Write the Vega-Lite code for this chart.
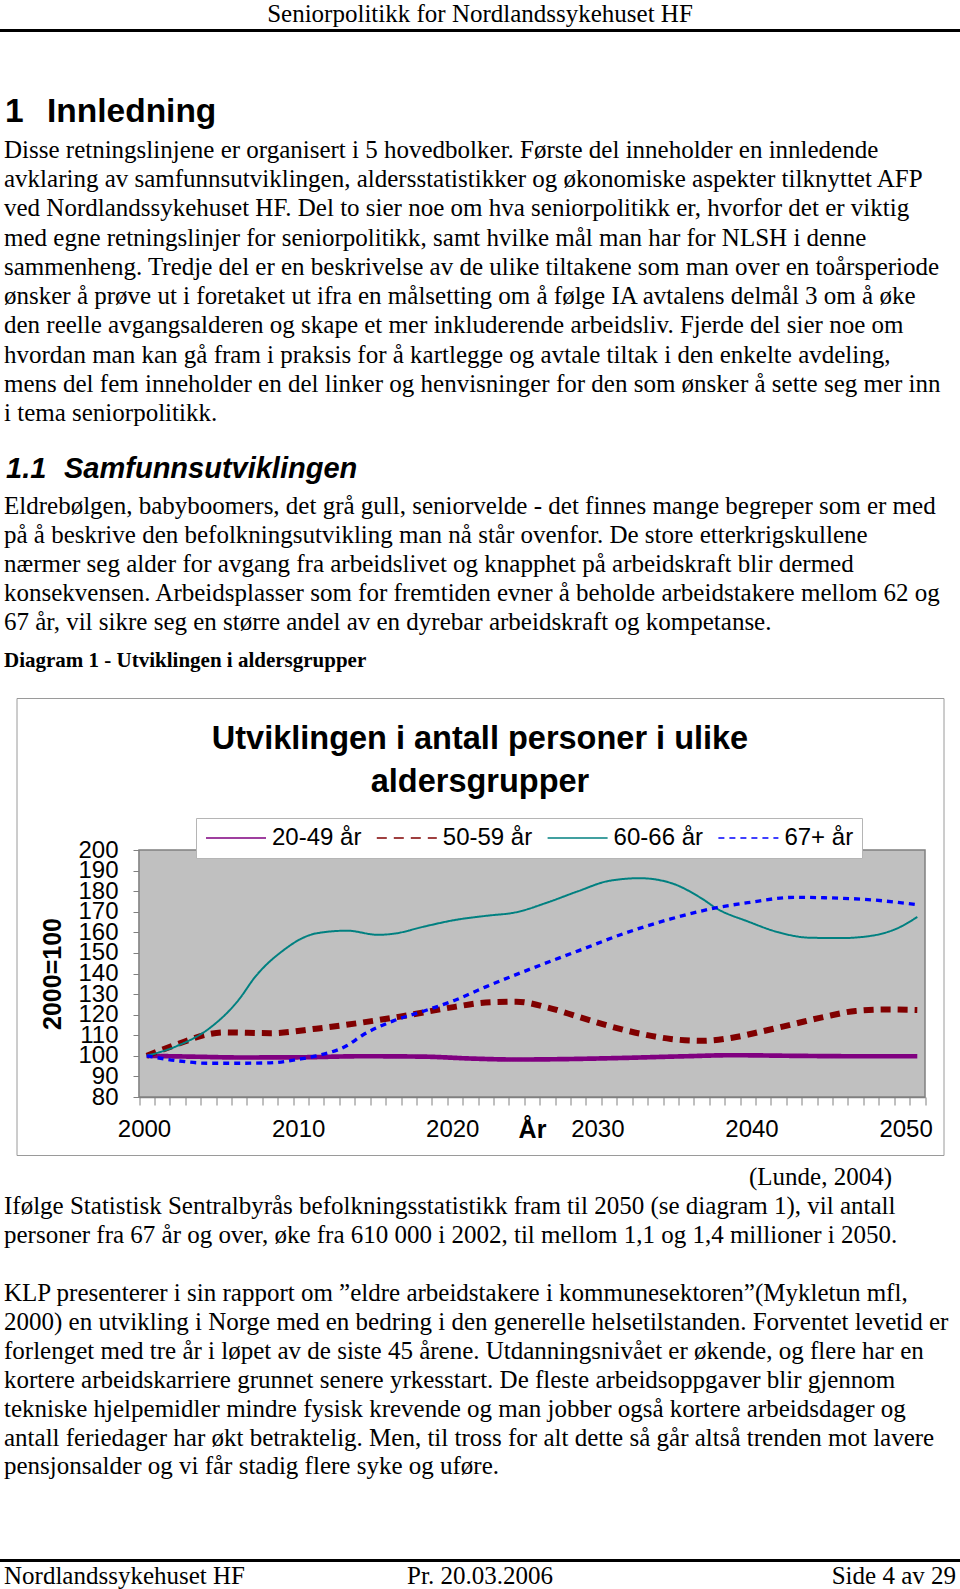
{
  "$schema": "https://vega.github.io/schema/vega-lite/v6.json",
  "padding": 0,
  "background": "white",
  "spacing": 0,
  "bounds": "flush",
  "center": true,
  "resolve": {"legend": {"color": "independent", "strokeDash": "independent", "strokeWidth": "independent"}},
  "config": {"view": {"stroke": null}},
  "vconcat": [
    {
      "width": 960, "height": 28.5,
      "data": {"values": [{"text": "Seniorpolitikk for Nordlandssykehuset HF"}]},
      "mark": {"type": "text", "font": "Liberation Serif", "fontSize": 25, "align": "center", "baseline": "middle", "color": "black"},
      "encoding": {"text": {"field": "text"}}
    },
    {
      "width": 960, "height": 3, "view": {"fill": "black", "stroke": null},
      "data": {"values": [{}]},
      "mark": {"type": "rect", "opacity": 0}, "encoding": {}
    },
    {
      "width": 960, "height": 62.5,
      "data": {"values": [{}]},
      "mark": {"type": "rect", "opacity": 0}, "encoding": {}
    },
    {
      "width": 960, "height": 34,
      "data": {"values": [{"num": "1", "title": "Innledning"}]},
      "layer": [
        {"mark": {"type": "text", "font": "Liberation Sans", "fontSize": 33.5, "fontWeight": "bold", "align": "left", "baseline": "middle", "color": "black"},
         "encoding": {"x": {"value": 5}, "text": {"field": "num"}}},
        {"mark": {"type": "text", "font": "Liberation Sans", "fontSize": 33.5, "fontWeight": "bold", "align": "left", "baseline": "middle", "color": "black"},
         "encoding": {"x": {"value": 47}, "text": {"field": "title"}}}
      ]
    },
    {
      "width": 960, "height": 5.35,
      "data": {"values": [{}]},
      "mark": {"type": "rect", "opacity": 0}, "encoding": {}
    },
    {
      "width": 960, "height": 293,
      "data": {"values": [
        {"line": 0, "text": "Disse retningslinjene er organisert i 5 hovedbolker. Første del inneholder en innledende"},
        {"line": 1, "text": "avklaring av samfunnsutviklingen, aldersstatistikker og økonomiske aspekter tilknyttet AFP"},
        {"line": 2, "text": "ved Nordlandssykehuset HF. Del to sier noe om hva seniorpolitikk er, hvorfor det er viktig"},
        {"line": 3, "text": "med egne retningslinjer for seniorpolitikk, samt hvilke mål man har for NLSH i denne"},
        {"line": 4, "text": "sammenheng. Tredje del er en beskrivelse av de ulike tiltakene som man over en toårsperiode"},
        {"line": 5, "text": "ønsker å prøve ut i foretaket ut ifra en målsetting om å følge IA avtalens delmål 3 om å øke"},
        {"line": 6, "text": "den reelle avgangsalderen og skape et mer inkluderende arbeidsliv. Fjerde del sier noe om"},
        {"line": 7, "text": "hvordan man kan gå fram i praksis for å kartlegge og avtale tiltak i den enkelte avdeling,"},
        {"line": 8, "text": "mens del fem inneholder en del linker og henvisninger for den som ønsker å sette seg mer inn"},
        {"line": 9, "text": "i tema seniorpolitikk."}
      ]},
      "mark": {"type": "text", "font": "Liberation Serif", "fontSize": 25, "align": "left", "baseline": "middle", "color": "black"},
      "encoding": {
        "y": {"field": "line", "type": "ordinal", "axis": null, "scale": {"type": "point", "padding": 0.5}},
        "x": {"value": 4},
        "text": {"field": "text"}
      }
    },
    {
      "width": 960, "height": 23.65,
      "data": {"values": [{}]},
      "mark": {"type": "rect", "opacity": 0}, "encoding": {}
    },
    {
      "width": 960, "height": 34,
      "data": {"values": [{"num": "1.1", "title": "Samfunnsutviklingen"}]},
      "layer": [
        {"mark": {"type": "text", "font": "Liberation Sans", "fontSize": 29, "fontWeight": "bold", "fontStyle": "italic", "align": "left", "baseline": "middle", "color": "black"},
         "encoding": {"x": {"value": 6}, "text": {"field": "num"}}},
        {"mark": {"type": "text", "font": "Liberation Sans", "fontSize": 29, "fontWeight": "bold", "fontStyle": "italic", "align": "left", "baseline": "middle", "color": "black"},
         "encoding": {"x": {"value": 64}, "text": {"field": "title"}}}
      ]
    },
    {
      "width": 960, "height": 4.4,
      "data": {"values": [{}]},
      "mark": {"type": "rect", "opacity": 0}, "encoding": {}
    },
    {
      "width": 960, "height": 146,
      "data": {"values": [
        {"line": 0, "text": "Eldrebølgen, babyboomers, det grå gull, seniorvelde - det finnes mange begreper som er med"},
        {"line": 1, "text": "på å beskrive den befolkningsutvikling man nå står ovenfor. De store etterkrigskullene"},
        {"line": 2, "text": "nærmer seg alder for avgang fra arbeidslivet og knapphet på arbeidskraft blir dermed"},
        {"line": 3, "text": "konsekvensen. Arbeidsplasser som for fremtiden evner å beholde arbeidstakere mellom 62 og"},
        {"line": 4, "text": "67 år, vil sikre seg en større andel av en dyrebar arbeidskraft og kompetanse."}
      ]},
      "mark": {"type": "text", "font": "Liberation Serif", "fontSize": 25, "align": "left", "baseline": "middle", "color": "black"},
      "encoding": {
        "y": {"field": "line", "type": "ordinal", "axis": null, "scale": {"type": "point", "padding": 0.5}},
        "x": {"value": 4},
        "text": {"field": "text"}
      }
    },
    {
      "width": 960, "height": 48.2,
      "data": {"values": [{"text": "Diagram 1 - Utviklingen i aldersgrupper"}]},
      "mark": {"type": "text", "font": "Liberation Serif", "fontSize": 21, "fontWeight": "bold", "align": "left", "baseline": "middle", "color": "black"},
      "encoding": {"x": {"value": 4}, "text": {"field": "text"}}
    },
    {
      "width": 960, "height": 11.4,
      "data": {"values": [{}]},
      "mark": {"type": "rect", "opacity": 0}, "encoding": {}
    },
    {
      "width": 927, "height": 457,
      "view": {"stroke": "#9a9a9a", "strokeWidth": 1, "fill": "white"},
      "title": {
        "text": ["Utviklingen i antall personer i ulike", "aldersgrupper"],
        "anchor": "middle", "frame": "group",
        "font": "Liberation Sans", "fontSize": 32.5, "fontWeight": "bold", "color": "black",
        "lineHeight": 43, "offset": -100
      },
      "data": {"values": [
        {"group": "20-49 år", "year": 2000, "value": 100},
        {"group": "20-49 år", "year": 2003, "value": 99.6},
        {"group": "20-49 år", "year": 2006, "value": 99.2},
        {"group": "20-49 år", "year": 2010, "value": 99.3},
        {"group": "20-49 år", "year": 2014, "value": 99.8},
        {"group": "20-49 år", "year": 2018, "value": 99.6},
        {"group": "20-49 år", "year": 2021, "value": 98.7},
        {"group": "20-49 år", "year": 2024, "value": 98.2},
        {"group": "20-49 år", "year": 2027, "value": 98.4},
        {"group": "20-49 år", "year": 2031, "value": 99.0},
        {"group": "20-49 år", "year": 2035, "value": 99.8},
        {"group": "20-49 år", "year": 2038, "value": 100.3},
        {"group": "20-49 år", "year": 2042, "value": 100.0},
        {"group": "20-49 år", "year": 2046, "value": 99.8},
        {"group": "20-49 år", "year": 2050, "value": 99.8},

        {"group": "50-59 år", "year": 2000, "value": 100},
        {"group": "50-59 år", "year": 2002, "value": 105.7},
        {"group": "50-59 år", "year": 2004, "value": 110.5},
        {"group": "50-59 år", "year": 2005, "value": 111.4},
        {"group": "50-59 år", "year": 2008, "value": 111.0},
        {"group": "50-59 år", "year": 2011, "value": 113.2},
        {"group": "50-59 år", "year": 2014, "value": 116.2},
        {"group": "50-59 år", "year": 2017, "value": 119.8},
        {"group": "50-59 år", "year": 2020, "value": 123.8},
        {"group": "50-59 år", "year": 2022, "value": 125.9},
        {"group": "50-59 år", "year": 2024, "value": 126.3},
        {"group": "50-59 år", "year": 2026, "value": 123.5},
        {"group": "50-59 år", "year": 2028, "value": 119.0},
        {"group": "50-59 år", "year": 2030, "value": 114.5},
        {"group": "50-59 år", "year": 2032, "value": 110.8},
        {"group": "50-59 år", "year": 2034, "value": 108.2},
        {"group": "50-59 år", "year": 2036, "value": 107.3},
        {"group": "50-59 år", "year": 2038, "value": 108.8},
        {"group": "50-59 år", "year": 2040, "value": 112.0},
        {"group": "50-59 år", "year": 2042, "value": 115.5},
        {"group": "50-59 år", "year": 2044, "value": 119.0},
        {"group": "50-59 år", "year": 2046, "value": 121.8},
        {"group": "50-59 år", "year": 2048, "value": 122.5},
        {"group": "50-59 år", "year": 2050, "value": 122.3},

        {"group": "60-66 år", "year": 2000, "value": 100},
        {"group": "60-66 år", "year": 2002, "value": 104.9},
        {"group": "60-66 år", "year": 2004, "value": 113.0},
        {"group": "60-66 år", "year": 2006, "value": 127.5},
        {"group": "60-66 år", "year": 2007, "value": 138.0},
        {"group": "60-66 år", "year": 2009, "value": 152.0},
        {"group": "60-66 år", "year": 2010, "value": 156.8},
        {"group": "60-66 år", "year": 2011, "value": 159.5},
        {"group": "60-66 år", "year": 2013, "value": 160.8},
        {"group": "60-66 år", "year": 2015, "value": 158.8},
        {"group": "60-66 år", "year": 2016, "value": 159.3},
        {"group": "60-66 år", "year": 2018, "value": 162.8},
        {"group": "60-66 år", "year": 2020, "value": 166.0},
        {"group": "60-66 år", "year": 2022, "value": 168.0},
        {"group": "60-66 år", "year": 2024, "value": 169.8},
        {"group": "60-66 år", "year": 2026, "value": 174.5},
        {"group": "60-66 år", "year": 2028, "value": 180.0},
        {"group": "60-66 år", "year": 2030, "value": 185.0},
        {"group": "60-66 år", "year": 2032, "value": 186.3},
        {"group": "60-66 år", "year": 2034, "value": 184.0},
        {"group": "60-66 år", "year": 2036, "value": 176.5},
        {"group": "60-66 år", "year": 2037, "value": 171.5},
        {"group": "60-66 år", "year": 2039, "value": 165.3},
        {"group": "60-66 år", "year": 2041, "value": 160.0},
        {"group": "60-66 år", "year": 2043, "value": 157.4},
        {"group": "60-66 år", "year": 2045, "value": 157.2},
        {"group": "60-66 år", "year": 2047, "value": 158.3},
        {"group": "60-66 år", "year": 2049, "value": 163.0},
        {"group": "60-66 år", "year": 2050, "value": 167.5},

        {"group": "67+ år", "year": 2000, "value": 100},
        {"group": "67+ år", "year": 2002, "value": 97.6},
        {"group": "67+ år", "year": 2004, "value": 96.4},
        {"group": "67+ år", "year": 2006, "value": 96.4},
        {"group": "67+ år", "year": 2008, "value": 96.6},
        {"group": "67+ år", "year": 2010, "value": 98.5},
        {"group": "67+ år", "year": 2011, "value": 100.0},
        {"group": "67+ år", "year": 2013, "value": 105.0},
        {"group": "67+ år", "year": 2014, "value": 110.0},
        {"group": "67+ år", "year": 2016, "value": 117.0},
        {"group": "67+ år", "year": 2018, "value": 121.8},
        {"group": "67+ år", "year": 2020, "value": 127.0},
        {"group": "67+ år", "year": 2022, "value": 133.5},
        {"group": "67+ år", "year": 2025, "value": 142.5},
        {"group": "67+ år", "year": 2028, "value": 151.0},
        {"group": "67+ år", "year": 2031, "value": 159.5},
        {"group": "67+ år", "year": 2034, "value": 166.5},
        {"group": "67+ år", "year": 2037, "value": 172.0},
        {"group": "67+ år", "year": 2039, "value": 174.4},
        {"group": "67+ år", "year": 2042, "value": 177.0},
        {"group": "67+ år", "year": 2044, "value": 176.8},
        {"group": "67+ år", "year": 2047, "value": 175.8},
        {"group": "67+ år", "year": 2050, "value": 173.4}
      ]},
      "layer": [
        {
          "data": {"values": [{}]},
          "mark": {"type": "rect", "fill": "#c0c0c0", "stroke": "#808080", "strokeWidth": 1.5},
          "encoding": {
            "x": {"datum": 1999.5, "type": "quantitative", "scale": {"domain": [1999.5, 2050.5], "range": [122.5, 908.5], "nice": false, "zero": false}},
            "x2": {"datum": 2050.5},
            "y": {"datum": 80, "type": "quantitative", "scale": {"domain": [80, 200], "range": [399, 152], "nice": false, "zero": false}},
            "y2": {"datum": 200}
          }
        },
        {
          "mark": {"type": "line", "interpolate": "monotone"},
          "encoding": {
            "x": {
              "field": "year", "type": "quantitative",
              "scale": {"domain": [1999.5, 2050.5], "range": [122.5, 908.5], "nice": false, "zero": false},
              "axis": {
                "values": [1999.5, 2000.5, 2001.5, 2002.5, 2003.5, 2004.5, 2005.5, 2006.5, 2007.5, 2008.5, 2009.5, 2010.5, 2011.5, 2012.5, 2013.5, 2014.5, 2015.5, 2016.5, 2017.5, 2018.5, 2019.5, 2020.5, 2021.5, 2022.5, 2023.5, 2024.5, 2025.5, 2026.5, 2027.5, 2028.5, 2029.5, 2030.5, 2031.5, 2032.5, 2033.5, 2034.5, 2035.5, 2036.5, 2037.5, 2038.5, 2039.5, 2040.5, 2041.5, 2042.5, 2043.5, 2044.5, 2045.5, 2046.5, 2047.5, 2048.5, 2049.5, 2050.5],
                "tickCount": 100,
                "offset": -58,
                "grid": false,
                "tickSize": 8, "tickColor": "#808080", "tickWidth": 1,
                "domainColor": "#808080", "domainWidth": 1.5,
                "labelExpr": "(datum.value + 0.5) % 10 == 0 ? '' + (datum.value + 0.5) : ''",
                "labelFont": "Liberation Sans", "labelFontSize": 24, "labelColor": "black",
                "labelPadding": 12, "labelOverlap": false, "labelFlush": false, "labelBound": false,
                "labelOffset": {"condition": {"test": "datum.value < 2025", "value": 5}, "value": -4},
                "title": "År", "titleFont": "Liberation Sans", "titleFontSize": 25, "titleFontWeight": "bold", "titleColor": "black",
                "titleX": 515.5, "titleY": 32, "titleBaseline": "middle", "titleAlign": "center"
              }
            },
            "y": {
              "field": "value", "type": "quantitative",
              "scale": {"domain": [80, 200], "range": [399, 152], "nice": false, "zero": false},
              "axis": {
                "values": [80, 90, 100, 110, 120, 130, 140, 150, 160, 170, 180, 190, 200],
                "tickCount": 50,
                "offset": -122.5,
                "grid": false,
                "tickSize": 6, "tickColor": "#808080", "tickWidth": 1,
                "domainColor": "#808080", "domainWidth": 1.5,
                "labelFont": "Liberation Sans", "labelFontSize": 24, "labelColor": "black",
                "labelPadding": 15, "labelOverlap": false, "labelFlush": false, "labelBound": false,
                "title": "2000=100", "titleFont": "Liberation Sans", "titleFontSize": 25, "titleFontWeight": "bold", "titleColor": "black",
                "titleX": -87, "titleBaseline": "middle", "titleAlign": "center"
              }
            },
            "color": {
              "field": "group", "type": "nominal",
              "scale": {"domain": ["20-49 år", "50-59 år", "60-66 år", "67+ år"], "range": ["#800080", "#800000", "#008080", "#0000ff"]},
              "legend": {
                "orient": "none", "legendX": 179.5, "legendY": 120, "direction": "horizontal",
                "title": null, "fillColor": "white", "strokeColor": "#b5b5b5", "padding": 8,
                "symbolType": "M-1,0H5", "symbolSize": 400,
                "labelFont": "Liberation Sans", "labelFontSize": 24, "labelColor": "black",
                "labelOffset": 44, "columnPadding": 11.8, "labelLimit": 0
              }
            },
            "strokeDash": {
              "field": "group", "type": "nominal",
              "scale": {"domain": ["20-49 år", "50-59 år", "60-66 år", "67+ år"], "range": [[1, 0], [10, 7], [1, 0], [6, 5]]}
            },
            "strokeWidth": {
              "field": "group", "type": "nominal",
              "scale": {"type": "point", "domain": ["60-66 år", "67+ år", "20-49 år", "50-59 år"], "range": [2, 6], "padding": 0}
            }
          }
        }
      ]
    },
    {
      "width": 960, "height": 7.55,
      "data": {"values": [{}]},
      "mark": {"type": "rect", "opacity": 0}, "encoding": {}
    },
    {
      "width": 960, "height": 317.9,
      "data": {"values": [
        {"line": 0, "text": "(Lunde, 2004)"},
        {"line": 1, "text": "Ifølge Statistisk Sentralbyrås befolkningsstatistikk fram til 2050 (se diagram 1), vil antall"},
        {"line": 2, "text": "personer fra 67 år og over, øke fra 610 000 i 2002, til mellom 1,1 og 1,4 millioner i 2050."},
        {"line": 3, "text": ""},
        {"line": 4, "text": "KLP presenterer i sin rapport om ”eldre arbeidstakere i kommunesektoren”(Mykletun mfl,"},
        {"line": 5, "text": "2000) en utvikling i Norge med en bedring i den generelle helsetilstanden. Forventet levetid er"},
        {"line": 6, "text": "forlenget med tre år i løpet av de siste 45 årene. Utdanningsnivået er økende, og flere har en"},
        {"line": 7, "text": "kortere arbeidskarriere grunnet senere yrkesstart. De fleste arbeidsoppgaver blir gjennom"},
        {"line": 8, "text": "tekniske hjelpemidler mindre fysisk krevende og man jobber også kortere arbeidsdager og"},
        {"line": 9, "text": "antall feriedager har økt betraktelig. Men, til tross for alt dette så går altså trenden mot lavere"},
        {"line": 10, "text": "pensjonsalder og vi får stadig flere syke og uføre."}
      ]},
      "encoding": {
        "y": {"field": "line", "type": "ordinal", "axis": null, "scale": {"type": "point", "padding": 0.5}},
        "text": {"field": "text"}
      },
      "layer": [
        {
          "transform": [{"filter": "datum.line > 0"}],
          "mark": {"type": "text", "font": "Liberation Serif", "fontSize": 25, "align": "left", "baseline": "middle", "color": "black"},
          "encoding": {"x": {"value": 4}}
        },
        {
          "transform": [{"filter": "datum.line == 0"}],
          "mark": {"type": "text", "font": "Liberation Serif", "fontSize": 25, "align": "right", "baseline": "middle", "color": "black"},
          "encoding": {"x": {"value": 892}}
        }
      ]
    },
    {
      "width": 960, "height": 77.05,
      "data": {"values": [{}]},
      "mark": {"type": "rect", "opacity": 0}, "encoding": {}
    },
    {
      "width": 960, "height": 3, "view": {"fill": "black", "stroke": null},
      "data": {"values": [{}]},
      "mark": {"type": "rect", "opacity": 0}, "encoding": {}
    },
    {
      "width": 960, "height": 27,
      "data": {"values": [{"left": "Nordlandssykehuset HF", "mid": "Pr. 20.03.2006", "right": "Side 4 av 29"}]},
      "layer": [
        {"mark": {"type": "text", "font": "Liberation Serif", "fontSize": 25, "align": "left", "baseline": "middle", "color": "black"},
         "encoding": {"x": {"value": 4}, "text": {"field": "left"}}},
        {"mark": {"type": "text", "font": "Liberation Serif", "fontSize": 25, "align": "center", "baseline": "middle", "color": "black"},
         "encoding": {"text": {"field": "mid"}}},
        {"mark": {"type": "text", "font": "Liberation Serif", "fontSize": 25, "align": "right", "baseline": "middle", "color": "black"},
         "encoding": {"x": {"value": 956}, "text": {"field": "right"}}}
      ]
    }
  ]
}
